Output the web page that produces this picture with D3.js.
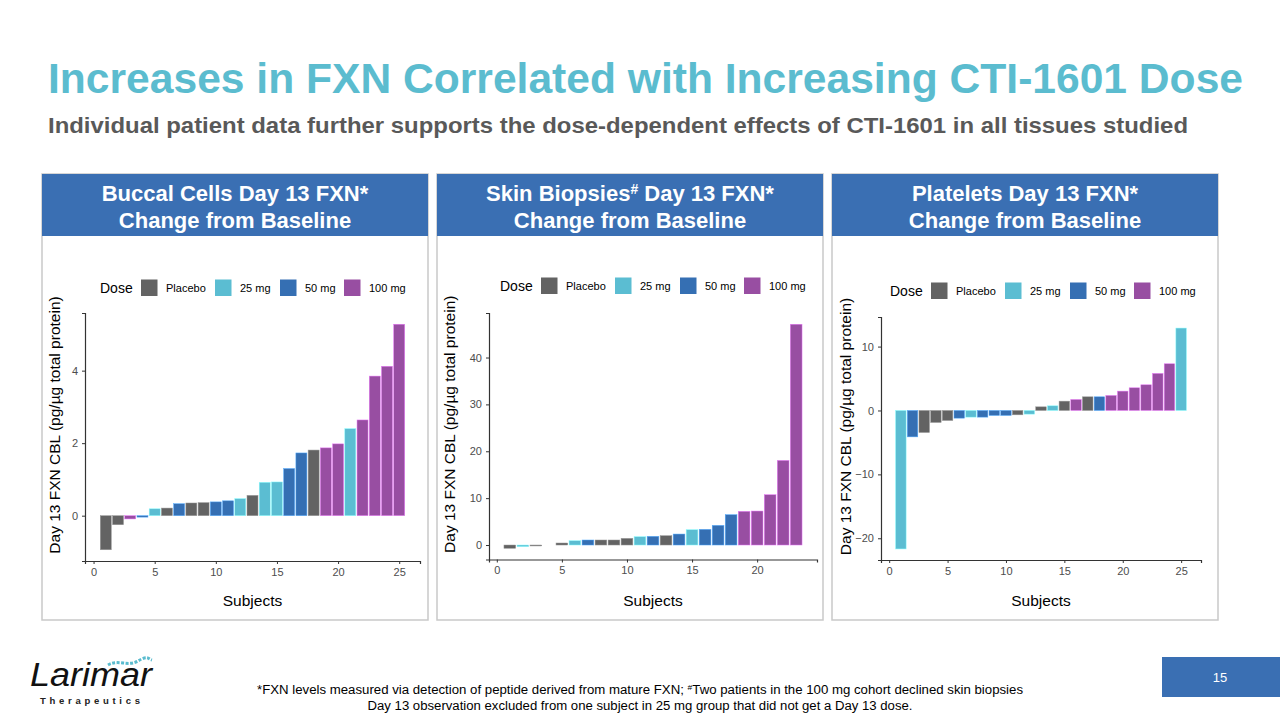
<!DOCTYPE html>
<html>
<head>
<meta charset="utf-8">
<script src="https://cdn.jsdelivr.net/npm/d3@7"></script>
<style>
  html, body { margin: 0; padding: 0; background: #ffffff; }
  svg { display: block; font-family: "Liberation Sans", Arial, sans-serif; }
</style>
</head>
<body>
<svg id="chart" width="1280" height="720"></svg>
<script>
// ---------------- DATA ----------------
const doseLevels = ["Placebo", "25 mg", "50 mg", "100 mg"];
const doseColors = ["#636363", "#5bbdd2", "#356fb3", "#984ea2"];

// Buccal cells: subjects 1..25
const buccalValues = [-0.94, -0.25, -0.09, -0.04, 0.19, 0.21, 0.33, 0.35, 0.36, 0.38, 0.41, 0.47, 0.56,
  0.92, 0.93, 1.30, 1.73, 1.81, 1.87, 1.98, 2.40, 2.64, 3.85, 4.12, 5.28];
const buccalDoses = ["Placebo", "Placebo", "100 mg", "50 mg", "25 mg", "Placebo", "50 mg", "Placebo", "Placebo",
  "50 mg", "50 mg", "25 mg", "Placebo", "25 mg", "25 mg", "50 mg", "50 mg", "Placebo", "100 mg", "100 mg",
  "25 mg", "100 mg", "100 mg", "100 mg", "100 mg"];

// Skin biopsies: subjects 1..23 (subject 4 has no visible bar)
const skinValues = [-0.7, -0.35, -0.2, null, 0.43, 0.92, 1.07, 1.07, 1.07, 1.42, 1.78, 1.85, 1.99, 2.34,
  3.27, 3.34, 4.19, 6.47, 7.18, 7.25, 10.73, 18.05, 47.1];
const skinDoses = ["Placebo", "25 mg", "Placebo", null, "Placebo", "25 mg", "50 mg", "Placebo", "Placebo",
  "Placebo", "25 mg", "50 mg", "Placebo", "50 mg", "25 mg", "50 mg", "50 mg", "50 mg", "100 mg", "100 mg",
  "100 mg", "100 mg", "100 mg"];

// Platelets: subjects 1..25
const plateletValues = [-21.67, -4.13, -3.45, -1.88, -1.57, -1.2, -1.04, -1.04, -0.78, -0.78, -0.68, -0.57,
  0.57, 0.73, 1.46, 1.72, 2.14, 2.14, 2.35, 3.03, 3.55, 4.02, 5.80, 7.31, 12.9];
const plateletDoses = ["25 mg", "50 mg", "Placebo", "Placebo", "Placebo", "50 mg", "25 mg", "50 mg", "50 mg",
  "50 mg", "Placebo", "25 mg", "Placebo", "25 mg", "Placebo", "100 mg", "Placebo", "50 mg", "100 mg", "100 mg",
  "100 mg", "100 mg", "100 mg", "100 mg", "25 mg"];

const buccalYTicks = [0, 2, 4];
const skinYTicks = [0, 10, 20, 30, 40];
const plateletYTicks = [-20, -10, 0, 10];
const buccalXTicks = [0, 5, 10, 15, 20, 25];
const skinXTicks = [0, 5, 10, 15, 20];
const plateletXTicks = [0, 5, 10, 15, 20, 25];

const panelTitles = [
  ["Buccal Cells Day 13 FXN*", "Change from Baseline"],
  ["Skin Biopsies# Day 13 FXN*", "Change from Baseline"],
  ["Platelets Day 13 FXN*", "Change from Baseline"]
];
const yLabel = "Day 13 FXN CBL (pg/µg total protein)";
const xLabel = "Subjects";

// ---------------- DRAW ----------------
const svg = d3.select("#chart");
const color = d3.scaleOrdinal().domain(doseLevels).range(doseColors);
const headerBlue = "#3a6fb3";
const titleCyan = "#5bbccf";

// Title
svg.append("text").attr("x", 48).attr("y", 93)
  .attr("font-size", 42).attr("font-weight", "bold").attr("fill", titleCyan)
  .attr("textLength", 1195).attr("lengthAdjust", "spacingAndGlyphs")
  .text("Increases in FXN Correlated with Increasing CTI-1601 Dose");
svg.append("text").attr("x", 48).attr("y", 133)
  .attr("font-size", 22).attr("font-weight", "bold").attr("fill", "#595959")
  .attr("textLength", 1140).attr("lengthAdjust", "spacingAndGlyphs")
  .text("Individual patient data further supports the dose-dependent effects of CTI-1601 in all tissues studied");

const panels = [
  { box: [42, 428], values: buccalValues, doses: buccalDoses, yTicks: buccalYTicks, xTicks: buccalXTicks,
    plot: { x0: 85, x1: 420, y0: 313, y1: 561 }, xDom: [-0.7, 26.7], yDom: [-1.25, 5.59],
    legend: { x: 100, y: 288 }, ylabX: 55 },
  { box: [437, 823], values: skinValues, doses: skinDoses, yTicks: skinYTicks, xTicks: skinXTicks,
    plot: { x0: 489, x1: 817, y0: 313, y1: 559.5 }, xDom: [-0.6, 24.6], yDom: [-3.09, 49.5],
    legend: { x: 500, y: 286 }, ylabX: 450 },
  { box: [832, 1218], values: plateletValues, doses: plateletDoses, yTicks: plateletYTicks, xTicks: plateletXTicks,
    plot: { x0: 881, x1: 1201, y0: 317, y1: 560 }, xDom: [-0.7, 26.7], yDom: [-23.4, 14.63],
    legend: { x: 890, y: 291 }, ylabX: 846 }
];

panels.forEach((p, i) => {
  const g = svg.append("g");
  const bx = p.box[0], bw = p.box[1] - p.box[0];
  // panel border
  g.append("rect").attr("x", bx).attr("y", 174).attr("width", bw).attr("height", 446)
    .attr("fill", "#ffffff").attr("stroke", "#c9c9c9").attr("stroke-width", 1.5);
  // header
  g.append("rect").attr("x", bx).attr("y", 174).attr("width", bw).attr("height", 62).attr("fill", headerBlue);
  const cx = bx + bw / 2;
  const t1 = g.append("text").attr("x", cx).attr("y", 201).attr("text-anchor", "middle")
    .attr("fill", "#ffffff").attr("font-size", 22).attr("font-weight", "bold");
  if (i === 1) {
    t1.append("tspan").text("Skin Biopsies");
    t1.append("tspan").attr("font-size", 14).attr("dy", -7).text("#");
    t1.append("tspan").attr("dy", 7).text(" Day 13 FXN*");
  } else {
    t1.text(panelTitles[i][0]);
  }
  g.append("text").attr("x", cx).attr("y", 228).attr("text-anchor", "middle")
    .attr("fill", "#ffffff").attr("font-size", 22).attr("font-weight", "bold").text(panelTitles[i][1]);

  // scales
  const x = d3.scaleLinear().domain(p.xDom).range([p.plot.x0, p.plot.x1]);
  const y = d3.scaleLinear().domain(p.yDom).range([p.plot.y1, p.plot.y0]);

  const data = p.values.map((v, k) => ({ subj: k + 1, v: v, dose: p.doses[k] })).filter(d => d.v !== null);
  const bw2 = 0.45;
  g.selectAll("rect.bar").data(data).enter().append("rect").attr("class", "bar")
    .attr("x", d => x(d.subj - bw2))
    .attr("width", d => x(d.subj + bw2) - x(d.subj - bw2))
    .attr("y", d => y(Math.max(0, d.v)))
    .attr("height", d => Math.abs(y(d.v) - y(0)))
    .attr("fill", d => color(d.dose))
    .attr("stroke", d => d3.color(color(d.dose)).brighter(1.2))
    .attr("stroke-width", 0.5);

  // axes
  const fmt = d3.format("d");
  const xAxis = d3.axisBottom(x).tickValues(p.xTicks).tickFormat(fmt).tickSize(3).tickPadding(4);
  const yAxis = d3.axisLeft(y).tickValues(p.yTicks).tickFormat(fmt).tickSize(3).tickPadding(4);
  const gx = g.append("g").attr("transform", `translate(0,${p.plot.y1})`).call(xAxis);
  const gy = g.append("g").attr("transform", `translate(${p.plot.x0},0)`).call(yAxis);
  [gx, gy].forEach(ax => {
    ax.select(".domain").attr("stroke", "#333333").attr("stroke-width", 1.2);
    ax.selectAll(".tick line").attr("stroke", "#333333");
    ax.selectAll(".tick text").attr("fill", "#4d4d4d").attr("font-size", 11)
      .attr("font-family", "Liberation Sans, Arial, sans-serif");
  });

  // axis titles
  g.append("text").attr("transform", `translate(${p.ylabX},${(p.plot.y0 + p.plot.y1) / 2 - 12}) rotate(-90)`)
    .attr("text-anchor", "middle").attr("dy", "0.35em").attr("font-size", 15.5).attr("fill", "#000000").text(yLabel);
  g.append("text").attr("x", (p.plot.x0 + p.plot.x1) / 2).attr("y", 606)
    .attr("text-anchor", "middle").attr("font-size", 15.5).attr("fill", "#000000").text(xLabel);

  // legend
  const lg = g.append("g").attr("transform", `translate(${p.legend.x},${p.legend.y})`);
  lg.append("text").attr("x", 0).attr("y", 0).attr("dy", "0.35em").attr("font-size", 14).attr("fill", "#000").text("Dose");
  const offsets = [41, 115, 180, 244];
  const labOff = [66, 140, 205, 269];
  doseLevels.forEach((d, k) => {
    lg.append("rect").attr("x", offsets[k]).attr("y", -8.5).attr("width", 16.5).attr("height", 16.5).attr("fill", doseColors[k]);
    lg.append("text").attr("x", labOff[k]).attr("y", 0).attr("dy", "0.35em").attr("font-size", 11).attr("fill", "#000").text(d);
  });
});

// Footer: logo
const logo = svg.append("g");
logo.append("text").attr("x", 30).attr("y", 686).attr("font-size", 34).attr("font-style", "italic")
  .attr("fill", "#111111").attr("textLength", 122).attr("lengthAdjust", "spacingAndGlyphs")
  .attr("font-family", "Liberation Sans Narrow, Liberation Sans, Arial, sans-serif").text("Larimar");
logo.append("path").attr("d", "M108,665 C118,659 128,667 138,661 S148,659 152,660")
  .attr("fill", "none").attr("stroke", "#5bbccf").attr("stroke-width", 3).attr("stroke-dasharray", "3,1.5");
logo.append("text").attr("x", 40).attr("y", 704).attr("font-size", 9.5).attr("font-weight", "bold")
  .attr("fill", "#222").attr("textLength", 100).attr("lengthAdjust", "spacing").text("Therapeutics");

// Footnotes
const fn = svg.append("text").attr("x", 640).attr("y", 694).attr("text-anchor", "middle").attr("font-size", 12.5).attr("fill", "#000")
  .attr("textLength", 766).attr("lengthAdjust", "spacingAndGlyphs");
fn.append("tspan").text("*FXN levels measured via detection of peptide derived from mature FXN; ");
fn.append("tspan").attr("font-size", 8).attr("dy", -4).text("#");
fn.append("tspan").attr("dy", 4).text("Two patients in the 100 mg cohort declined skin biopsies");
svg.append("text").attr("x", 640).attr("y", 710).attr("text-anchor", "middle").attr("font-size", 12.5).attr("fill", "#000")
  .attr("textLength", 545).attr("lengthAdjust", "spacingAndGlyphs")
  .text("Day 13 observation excluded from one subject in 25 mg group that did not get a Day 13 dose.");

// Page number
svg.append("rect").attr("x", 1162).attr("y", 657).attr("width", 118).attr("height", 40).attr("fill", headerBlue);
svg.append("text").attr("x", 1220).attr("y", 677).attr("dy", "0.35em").attr("text-anchor", "middle")
  .attr("font-size", 13).attr("fill", "#fff").text("15");
</script>
</body>
</html>
